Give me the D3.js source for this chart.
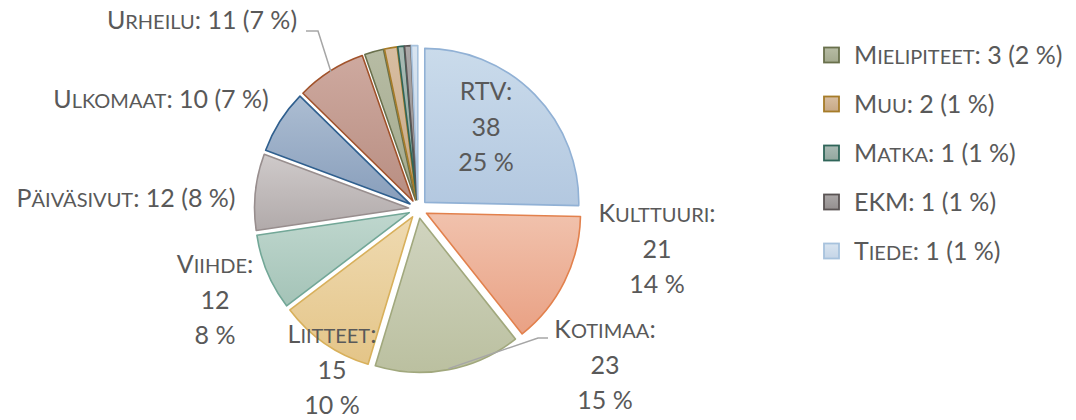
<!DOCTYPE html>
<html>
<head>
<meta charset="utf-8">
<script src="https://cdn.jsdelivr.net/npm/d3@7"></script>
<style>
  body { margin: 0; background: #fff; }
  svg { display: block; }
  text { font-family: Lato, "Open Sans", sans-serif; fill: #595959; }
</style>
</head>
<body>
<div id="chart"></div>
<script>
// data, clockwise from 12 o'clock
const names = ["RTV", "Kulttuuri", "Kotimaa", "Liitteet", "Viihde", "Päiväsivut",
  "Ulkomaat", "Urheilu", "Mielipiteet", "Muu", "Matka", "EKM", "Tiede"];
const counts = [38, 21, 23, 15, 12, 12, 10, 11, 3, 2, 1, 1, 1];
const legendNames = ["Mielipiteet", "Muu", "Matka", "EKM", "Tiede"];

// fill top, fill bottom, border
const colors = {
  "RTV":        ["#cadbeb", "#b3c8e0", "#91b1d5"],
  "Kulttuuri":  ["#f1c2ad", "#e9a184", "#e2814d"],
  "Kotimaa":    ["#d0d4bf", "#bbc0a0", "#a1a87d"],
  "Liitteet":   ["#efdab1", "#e4c588", "#d8b05b"],
  "Viihde":     ["#bfd7ce", "#a4c3b7", "#72a797"],
  "Päiväsivut": ["#cfcaca", "#b1aaaa", "#988e8e"],
  "Ulkomaat":   ["#acbdd2", "#889ebb", "#2f5f8e"],
  "Urheilu":    ["#cea99f", "#b88e82", "#a1522a"],
  "Mielipiteet":["#b7bca4", "#a3a98d", "#69704c"],
  "Muu":        ["#d8bea2", "#c7a885", "#a67c28"],
  "Matka":      ["#a9bab4", "#92a79f", "#2f6559"],
  "EKM":        ["#aba7a7", "#948f8f", "#5a5454"],
  "Tiede":      ["#d8e4f0", "#c5d5e7", "#a7c2dd"]
};

// label placement (text centre x, first baseline y, multi-line?)
const labelLayout = {
  "RTV":        { x: 486, y: 100, multi: true },
  "Kulttuuri":  { x: 657, y: 222, multi: true },
  "Kotimaa":    { x: 605, y: 338, multi: true },
  "Liitteet":   { x: 332, y: 343, multi: true },
  "Viihde":     { x: 215, y: 273, multi: true },
  "Päiväsivut": { x: 126, y: 207, multi: false },
  "Ulkomaat":   { x: 161, y: 108, multi: false },
  "Urheilu":    { x: 202, y: 29,  multi: false }
};
// leader line bends: [x, y] points from label side toward slice
const leaders = {
  "Urheilu": [[306, 31], [318, 31]],
  "Kotimaa": [[548, 338], [538, 338]]
};

const W = 1076, H = 420;
const cx = 418, cy = 209, R = 154, explode = 9.5;
const fontSize = 25, lineH = 35.5;

const total = d3.sum(counts);
const pct = v => Math.round(v / total * 100);

const svg = d3.select("#chart").append("svg")
  .attr("width", W).attr("height", H);

const defs = svg.append("defs");
names.forEach((n, i) => {
  const g = defs.append("linearGradient")
    .attr("id", "grad" + i)
    .attr("x1", 0).attr("y1", 0).attr("x2", 0).attr("y2", 1);
  g.append("stop").attr("offset", "0%").attr("stop-color", colors[n][0]);
  g.append("stop").attr("offset", "100%").attr("stop-color", colors[n][1]);
});

const data = names.map((n, i) => ({ name: n, value: counts[i], idx: i }));
const pie = d3.pie().value(d => d.value).sort(null);
const arcs = pie(data);
const arc = d3.arc().innerRadius(0).outerRadius(R);

const mid = d => (d.startAngle + d.endAngle) / 2;
const shift = d => [Math.sin(mid(d)) * explode, -Math.cos(mid(d)) * explode];

const pieG = svg.append("g").attr("transform", "translate(" + cx + "," + cy + ")");

pieG.selectAll("path")
  .data(arcs)
  .enter()
  .append("path")
  .attr("transform", d => "translate(" + shift(d) + ")")
  .attr("d", arc)
  .attr("fill", d => "url(#grad" + d.data.idx + ")")
  .attr("stroke", d => colors[d.data.name][2])
  .attr("stroke-width", 1.6)
  .attr("stroke-linejoin", "round");

// small caps: lowercase letters drawn as capitals at reduced size
function smallCaps(textSel, str, size) {
  let run = "", runSmall = null;
  const flush = () => {
    if (!run) return;
    textSel.append("tspan")
      .attr("font-size", runSmall ? size * 0.8 : size)
      .text(runSmall ? run.toUpperCase() : run);
    run = "";
  };
  for (const ch of str) {
    const small = ch !== ch.toUpperCase();
    if (runSmall !== null && small !== runSmall) flush();
    runSmall = small;
    run += ch;
  }
  flush();
}

// leader lines
Object.keys(leaders).forEach(n => {
  const d = arcs.find(a => a.data.name === n);
  const m = mid(d);
  const end = [cx + Math.sin(m) * (R + explode - 1), cy - Math.cos(m) * (R + explode - 1)];
  const pts = leaders[n].concat([end]);
  svg.append("path")
    .attr("d", d3.line()(pts))
    .attr("fill", "none")
    .attr("stroke", "#a6a6a6")
    .attr("stroke-width", 1.5);
});

// data labels
arcs.forEach(d => {
  const L = labelLayout[d.data.name];
  if (!L) return;
  const p = pct(d.data.value);
  if (L.multi) {
    const t1 = svg.append("text").attr("x", L.x).attr("y", L.y)
      .attr("text-anchor", "middle").attr("font-size", fontSize);
    smallCaps(t1, d.data.name + ":", fontSize);
    svg.append("text").attr("x", L.x).attr("y", L.y + lineH)
      .attr("text-anchor", "middle").attr("font-size", fontSize)
      .text(d.data.value);
    svg.append("text").attr("x", L.x).attr("y", L.y + 2 * lineH)
      .attr("text-anchor", "middle").attr("font-size", fontSize)
      .text(p + " %");
  } else {
    const t = svg.append("text").attr("x", L.x).attr("y", L.y)
      .attr("text-anchor", "middle").attr("font-size", fontSize);
    smallCaps(t, d.data.name + ": " + d.data.value + " (" + p + " %)", fontSize);
  }
});

// legend
const legendY = d3.scalePoint().domain(legendNames).range([55, 251]);
const legend = svg.append("g").selectAll("g")
  .data(legendNames)
  .enter()
  .append("g")
  .attr("transform", n => "translate(824," + legendY(n) + ")");

legend.append("rect")
  .attr("x", 0).attr("y", -7.5)
  .attr("width", 15).attr("height", 15)
  .attr("fill", n => "url(#grad" + names.indexOf(n) + ")")
  .attr("stroke", n => colors[n][2])
  .attr("stroke-width", 1.8);

legend.each(function(n) {
  const v = counts[names.indexOf(n)];
  const t = d3.select(this).append("text")
    .attr("x", 30).attr("y", 9)
    .attr("font-size", fontSize);
  smallCaps(t, n + ": " + v + " (" + pct(v) + " %)", fontSize);
});
</script>
</body>
</html>
